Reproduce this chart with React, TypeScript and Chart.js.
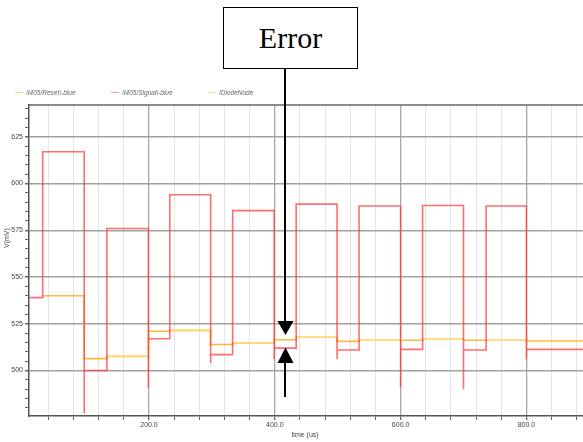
import React, { useEffect, useRef } from 'react';
import { Chart, registerables } from 'chart.js';

Chart.register(...registerables);

// ---- data ----
const edgeTimes = [10, 31, 97, 133, 199, 233, 298, 333, 399, 434, 499, 534, 600, 635, 700, 736, 800, 890];
const signalLevels = [539, 617, 500, 576, 517, 594, 508.5, 585.5, 512, 589, 511, 588, 511.3, 588.3, 511, 588, 511.3];
const signalSpikeTimes = [97, 199, 298, 399, 499, 600, 700, 800];
const signalSpikeValues = [477, 491, 504, 506, 506, 491, 490, 506];
const resetLevels: (number | null)[] = [null, 540, 506.4, 507.6, 521, 521.5, 513.9, 514.7, 516.5, 517.8, 515.6, 516.2, 516.2, 517, 516.2, 516.5, 515.8];
const diodeLevels: (number | null)[] = [null, null, null, 507.6, null, 521.5, null, 514.7, null, 517.8, null, 516.2, null, 517, null, 516.5, null];
const xMajorTicks = [200, 400, 600, 800];
const yMajorTicks = [500, 525, 550, 575, 600, 625];
const legendLabels = ['/I405/Reset\\-blue', '/I405/Signal\\-blue', '/DiodeNode'];

const X_MIN = 9.2;
const X_MAX = 890;
const Y_MIN = 475.7;
const Y_MAX = 642;

function stepPoints(times: number[], levels: (number | null)[], spikeT: number[] = [], spikeV: number[] = []) {
  const pts: { x: number; y: number | null }[] = [];
  for (let i = 0; i < levels.length; i++) {
    const lv = levels[i];
    if (lv == null) {
      pts.push({ x: times[i], y: null });
      continue;
    }
    if (i > 0 && levels[i - 1] != null) {
      const k = spikeT.indexOf(times[i]);
      if (k >= 0) pts.push({ x: times[i], y: spikeV[k] });
    }
    pts.push({ x: times[i], y: lv });
    pts.push({ x: times[i + 1], y: lv });
  }
  return pts;
}

const COLORS = {
  signal: 'rgba(255, 55, 55, 0.72)',
  reset: 'rgba(255, 170, 30, 0.85)',
  diode: 'rgba(255, 220, 130, 0.95)',
};

export default function App() {
  const ref = useRef<HTMLCanvasElement>(null);

  useEffect(() => {
    if (!ref.current) return;
    const borderPlugin = {
      id: 'plotBorder',
      afterDraw(chart: any) {
        const { ctx, chartArea } = chart;
        ctx.save();
        ctx.strokeStyle = '#666';
        ctx.lineWidth = 1.5;
        ctx.beginPath();
        ctx.moveTo(chartArea.left, chartArea.top);
        ctx.lineTo(chartArea.right + 2, chartArea.top);
        ctx.stroke();
        ctx.restore();
      },
    };
    const chart = new Chart(ref.current, {
      type: 'line',
      data: {
        datasets: [
          {
            label: legendLabels[1],
            data: stepPoints(edgeTimes, signalLevels, signalSpikeTimes, signalSpikeValues),
            borderColor: COLORS.signal,
            borderWidth: 1.6,
            pointRadius: 0,
            order: 0,
          },
          {
            label: legendLabels[2],
            data: stepPoints(edgeTimes, diodeLevels),
            borderColor: COLORS.diode,
            borderWidth: 1.6,
            pointRadius: 0,
            order: 1,
          },
          {
            label: legendLabels[0],
            data: stepPoints(edgeTimes, resetLevels),
            borderColor: COLORS.reset,
            borderWidth: 1.6,
            pointRadius: 0,
            order: 2,
          },
        ],
      },
      options: {
        animation: false,
        responsive: false,
        devicePixelRatio: 1,
        layout: { padding: { top: 105, left: 0, right: 0, bottom: 0 } },
        plugins: { legend: { display: false }, tooltip: { enabled: false }, title: { display: false } },
        scales: {
          x: {
            type: 'linear',
            min: X_MIN,
            max: X_MAX,
            afterBuildTicks: (scale: any) => {
              const t = [];
              for (let v = 40; v <= 880; v += 40) t.push({ value: v });
              scale.ticks = t;
            },
            afterFit: (scale: any) => {
              scale.height = 26;
            },
            ticks: {
              autoSkip: false,
              maxRotation: 0,
              padding: 1,
              color: '#444',
              font: { family: 'Liberation Sans', size: 7 },
              callback: (v: any) => (xMajorTicks.includes(Number(v)) ? Number(v).toFixed(1) : ''),
            },
            grid: {
              color: (c: any) => (c.tick && xMajorTicks.includes(c.tick.value) ? '#a8a8a8' : '#e4e4e4'),
              lineWidth: (c: any) => (c.tick && xMajorTicks.includes(c.tick.value) ? 1.3 : 1),
              tickLength: 4,
              tickColor: '#666',
            },
            border: { display: true, color: '#555', width: 1.5 },
          },
          y: {
            type: 'linear',
            min: Y_MIN,
            max: Y_MAX,
            afterBuildTicks: (scale: any) => {
              const t = [];
              for (let v = 480; v <= 640; v += 5) t.push({ value: v });
              scale.ticks = t;
            },
            afterFit: (scale: any) => {
              scale.width = 29;
            },
            ticks: {
              autoSkip: false,
              padding: 2,
              color: '#444',
              font: { family: 'Liberation Sans', size: 7 },
              callback: (v: any) => (yMajorTicks.includes(Number(v)) ? String(v) : ''),
            },
            grid: {
              color: (c: any) => (c.tick && yMajorTicks.includes(c.tick.value) ? '#a0a0a0' : 'rgba(0,0,0,0)'),
              lineWidth: (c: any) => (c.tick && yMajorTicks.includes(c.tick.value) ? 1.5 : 1),
              tickLength: 4,
              tickColor: '#666',
            },
            border: { display: true, color: '#555', width: 1.5 },
          },
        },
      },
      plugins: [borderPlugin],
    } as any);
    return () => chart.destroy();
  }, []);

  const legendColors = ['#ffcc66', '#ff9a9a', '#e8e2a6'];
  const legendX = [15, 111, 208];

  return (
    <div style={{ position: 'absolute', left: 0, top: 0, width: 583, height: 442, overflow: 'hidden', background: '#fff' }}>
      <canvas ref={ref} width={583} height={442} style={{ position: 'absolute', left: 0, top: 0, width: 583, height: 442 }} />
      {legendLabels.map((l, i) => (
        <div key={l} style={{ position: 'absolute', left: legendX[i], top: 88, height: 9, display: 'flex', alignItems: 'center', fontFamily: 'Liberation Sans', fontStyle: 'italic', fontSize: 6.5, color: '#666', whiteSpace: 'nowrap' }}>
          <span style={{ display: 'inline-block', width: 8, height: 1.5, background: legendColors[i], marginRight: 3 }} />
          {l}
        </div>
      ))}
      <div style={{ position: 'absolute', left: 3, top: 236, fontFamily: 'Liberation Sans', fontSize: 7, color: '#444', transform: 'rotate(-90deg)', transformOrigin: 'left top', whiteSpace: 'nowrap', width: 0 }}>
        <span style={{ position: 'absolute', left: -12, top: 0 }}>V(mV)</span>
      </div>
      <div style={{ position: 'absolute', left: 285, top: 431, width: 40, textAlign: 'center', fontFamily: 'Liberation Sans', fontSize: 7, color: '#444', whiteSpace: 'nowrap' }}>time (us)</div>
      <div style={{ position: 'absolute', left: 223, top: 7, width: 135, height: 62, boxSizing: 'border-box', border: '1.5px solid #000', background: '#fff', display: 'flex', alignItems: 'center', justifyContent: 'center', fontFamily: '"Liberation Serif", serif', fontSize: 30, color: '#000' }}>
        Error
      </div>
      <svg width={583} height={442} style={{ position: 'absolute', left: 0, top: 0, pointerEvents: 'none' }}>
        <line x1={285} y1={69} x2={285} y2={322} stroke="#000" strokeWidth={2} />
        <polygon points="277.5,321 293.5,321 285.5,335" fill="#000" />
        <polygon points="277.5,363 293.5,363 285.5,347.5" fill="#000" />
        <line x1={285} y1={362} x2={285} y2={397} stroke="#000" strokeWidth={2} />
      </svg>
    </div>
  );
}
